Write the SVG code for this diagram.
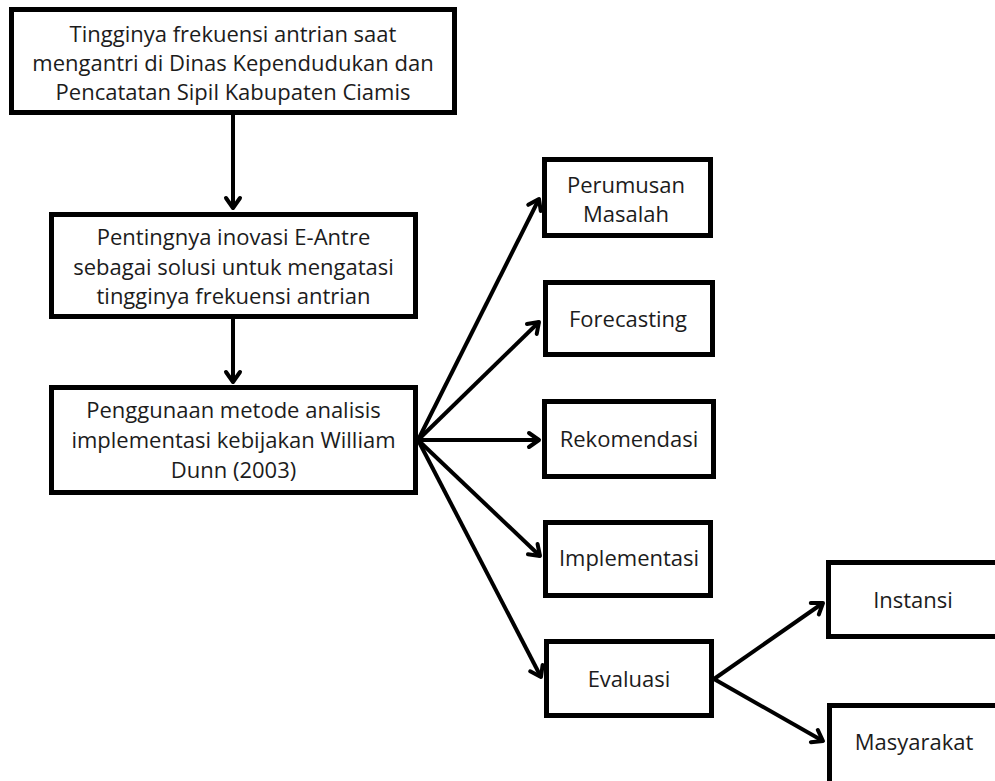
<svg xmlns="http://www.w3.org/2000/svg" width="995" height="781" viewBox="0 0 995 781">
<style>
.box{fill:#fff;stroke:#000;stroke-width:5}
.lbl{font-family:"Open Sans","Liberation Sans",sans-serif;font-size:22px;fill:#1c1c1c;text-anchor:middle}
.conn{stroke:#000;stroke-width:4;fill:none;marker-end:url(#arr)}
</style>
<defs>
<marker id="arr" markerUnits="userSpaceOnUse" markerWidth="20" markerHeight="20" refX="0" refY="0" orient="auto" overflow="visible">
<path d="M-10,-7 L0,0 L-10,7" fill="none" stroke="#000" stroke-width="4" stroke-linejoin="round" stroke-linecap="round"/>
</marker>
</defs>
<rect width="995" height="781" fill="#fff"/>
<g id="connectors">
<line class="conn" x1="233" y1="115" x2="233" y2="208"/>
<line class="conn" x1="233" y1="319" x2="233" y2="382"/>
<line class="conn" x1="418" y1="440" x2="539" y2="199"/>
<line class="conn" x1="418" y1="440" x2="539" y2="322"/>
<line class="conn" x1="418" y1="440" x2="539" y2="440"/>
<line class="conn" x1="418" y1="440" x2="540" y2="556"/>
<line class="conn" x1="418" y1="440" x2="541" y2="677"/>
<line class="conn" x1="714" y1="679" x2="823" y2="603"/>
<line class="conn" x1="714" y1="679" x2="823" y2="741"/>
</g>
<g id="n1">
<rect class="box" x="11.5" y="9.5" width="443" height="103"/>
<text class="lbl" x="233" y="42">Tingginya frekuensi antrian saat</text>
<text class="lbl" x="233" y="71">mengantri di Dinas Kependudukan dan</text>
<text class="lbl" x="233" y="100">Pencatatan Sipil Kabupaten Ciamis</text>
</g>
<g id="n2">
<rect class="box" x="51.5" y="214.5" width="364" height="102"/>
<text class="lbl" x="233.5" y="245">Pentingnya inovasi E-Antre</text>
<text class="lbl" x="233.5" y="275">sebagai solusi untuk mengatasi</text>
<text class="lbl" x="233.5" y="304">tingginya frekuensi antrian</text>
</g>
<g id="n3">
<rect class="box" x="51.5" y="387.5" width="364" height="105"/>
<text class="lbl" x="233.5" y="418">Penggunaan metode analisis</text>
<text class="lbl" x="233.5" y="448">implementasi kebijakan William</text>
<text class="lbl" x="233.5" y="478">Dunn (2003)</text>
</g>
<g id="n4">
<rect class="box" x="544.5" y="159.5" width="166" height="76"/>
<text class="lbl" x="626" y="193">Perumusan</text>
<text class="lbl" x="626" y="222">Masalah</text>
</g>
<g id="n5">
<rect class="box" x="545.5" y="282.5" width="167" height="72"/>
<text class="lbl" x="628" y="327">Forecasting</text>
</g>
<g id="n6">
<rect class="box" x="544.5" y="401.5" width="169" height="75"/>
<text class="lbl" x="629" y="447">Rekomendasi</text>
</g>
<g id="n7">
<rect class="box" x="545.5" y="522.5" width="165" height="73"/>
<text class="lbl" x="629" y="566">Implementasi</text>
</g>
<g id="n8">
<rect class="box" x="546.5" y="641.5" width="165" height="74"/>
<text class="lbl" x="629" y="687">Evaluasi</text>
</g>
<g id="n9">
<rect class="box" x="828.5" y="562.5" width="200" height="74"/>
<text class="lbl" x="913" y="608">Instansi</text>
</g>
<g id="n10">
<rect class="box" x="829.5" y="705.5" width="200" height="100"/>
<text class="lbl" x="914" y="750">Masyarakat</text>
</g>
</svg>
